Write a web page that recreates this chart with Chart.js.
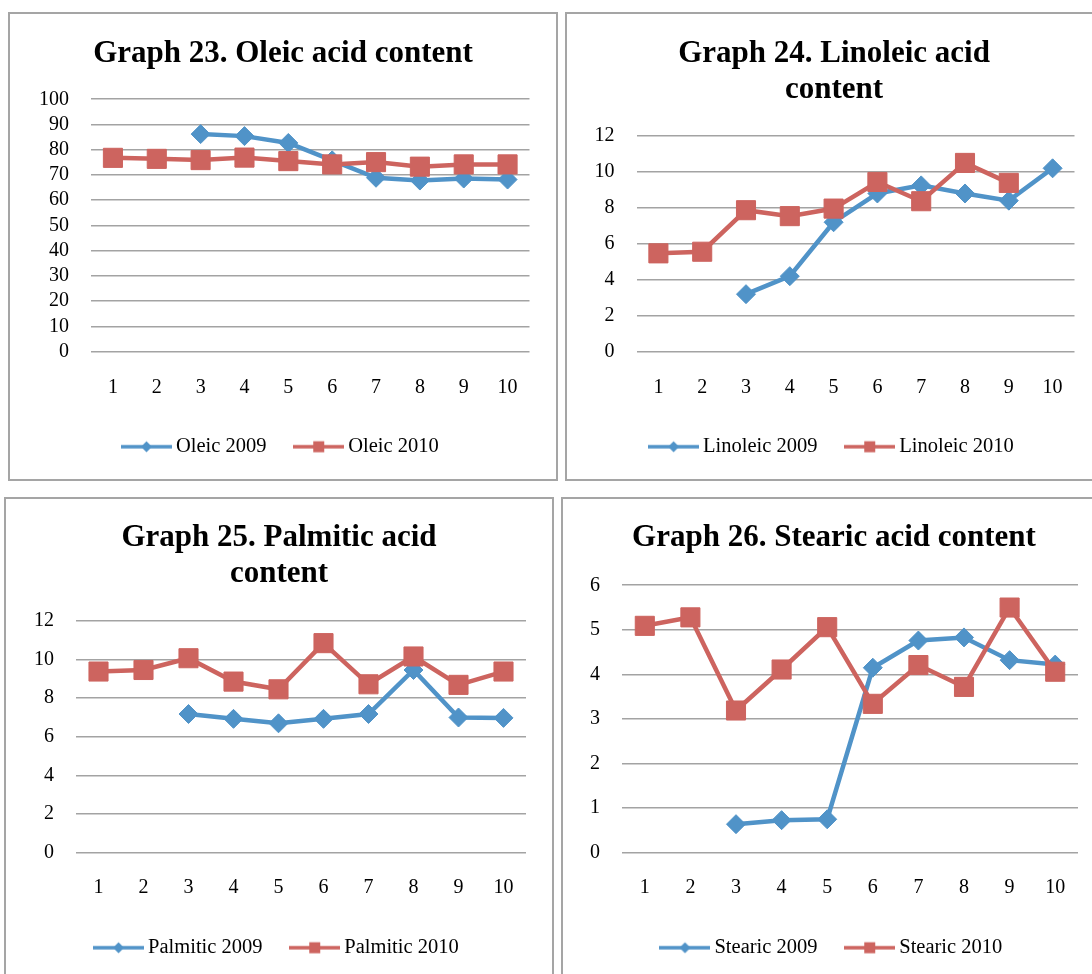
<!DOCTYPE html>
<html>
<head>
<meta charset="utf-8">
<script src="https://cdn.jsdelivr.net/npm/chart.js@4.4.1/dist/chart.umd.min.js"></script>
<style>
  html, body { margin: 0; padding: 0; background: #ffffff; }
  body { width: 1092px; height: 974px; position: relative; overflow: hidden; }
  .panel { position: absolute; box-sizing: border-box; border: 2px solid #a5a5a5; background: #fff; }
  .panel canvas { display: block; }
</style>
</head>
<body>
<div class="panel" id="p1" style="left:8px;top:12px;width:550px;height:469px;"><canvas id="c1"></canvas></div>
<div class="panel" id="p2" style="left:565px;top:12px;width:538px;height:469px;"><canvas id="c2"></canvas></div>
<div class="panel" id="p3" style="left:4px;top:497px;width:550px;height:490px;"><canvas id="c3"></canvas></div>
<div class="panel" id="p4" style="left:561px;top:497px;width:546px;height:490px;"><canvas id="c4"></canvas></div>
<script>
// ---- data ----
const categories = ['1','2','3','4','5','6','7','8','9','10'];

const oleic2009 = [null, null, 86.2, 85.4, 82.7, 75.8, 68.9, 67.8, 68.6, 68.2];
const oleic2010 = [76.8, 76.4, 75.9, 76.9, 75.5, 74.2, 75.1, 73.3, 74.2, 74.2];

const linoleic2009 = [null, null, 3.2, 4.2, 7.2, 8.8, 9.25, 8.8, 8.4, 10.2];
const linoleic2010 = [5.47, 5.56, 7.87, 7.54, 7.96, 9.44, 8.37, 10.5, 9.39, null];

const palmitic2009 = [null, null, 7.18, 6.93, 6.7, 6.93, 7.18, 9.46, 7.0, 6.98];
const palmitic2010 = [9.38, 9.46, 10.07, 8.86, 8.46, 10.85, 8.72, 10.16, 8.69, 9.38];

const stearic2009 = [null, null, 0.64, 0.73, 0.75, 4.15, 4.76, 4.83, 4.32, 4.22];
const stearic2010 = [5.09, 5.28, 3.19, 4.11, 5.06, 3.34, 4.21, 3.72, 5.5, 4.06];

const oleicTicks = [0, 100, 10];
const linoleicTicks = [0, 12, 2];
const palmiticTicks = [0, 12, 2];
const stearicTicks = [0, 6, 1];

const titles = {
  c1: ['Graph 23. Oleic acid content'],
  c2: ['Graph 24. Linoleic acid', 'content'],
  c3: ['Graph 25. Palmitic acid', 'content'],
  c4: ['Graph 26. Stearic acid content']
};
const legendNames = {
  c1: ['Oleic 2009', 'Oleic 2010'],
  c2: ['Linoleic 2009', 'Linoleic 2010'],
  c3: ['Palmitic 2009', 'Palmitic 2010'],
  c4: ['Stearic 2009', 'Stearic 2010']
};

// ---- styles ----
const BLUE = '#5093c8';
const RED = '#cd645f';
const GRID = '#a3a3a3';
const FONT = "'Liberation Serif', 'Times New Roman', serif";

function legendGlyph(color, shape) {
  const c = document.createElement('canvas');
  c.width = 51; c.height = 16;
  const g = c.getContext('2d');
  g.strokeStyle = color; g.lineWidth = 3.5;
  g.beginPath(); g.moveTo(0, 8); g.lineTo(51, 8); g.stroke();
  g.fillStyle = color;
  if (shape === 'diamond') {
    g.beginPath(); g.moveTo(25.5, 2.5); g.lineTo(31, 8); g.lineTo(25.5, 13.5); g.lineTo(20, 8); g.closePath(); g.fill();
  } else {
    g.fillRect(20, 2.5, 11, 11);
  }
  return c;
}
const glyphBlue = legendGlyph(BLUE, 'diamond');
const glyphRed = legendGlyph(RED, 'square');

function makeChart(id, d2009, d2010, ticks, L) {
  const [ymin, ymax, ystep] = ticks;
  const ctx = document.getElementById(id);
  return new Chart(ctx, {
    type: 'line',
    data: {
      labels: categories,
      datasets: [
        {
          label: legendNames[id][0], data: d2009, order: 1,
          borderColor: BLUE, backgroundColor: BLUE, borderWidth: 4.5,
          pointStyle: 'rectRot', pointRadius: 9.5, pointBorderWidth: 1,
          pointBackgroundColor: BLUE, pointBorderColor: BLUE,
          tension: 0, spanGaps: false, fill: false
        },
        {
          label: legendNames[id][1], data: d2010, order: 0,
          borderColor: RED, backgroundColor: RED, borderWidth: 4.5,
          pointStyle: 'rect', pointRadius: 13.5, pointBorderWidth: 1,
          pointBackgroundColor: RED, pointBorderColor: RED,
          tension: 0, spanGaps: false, fill: false
        }
      ]
    },
    options: {
      responsive: true,
      maintainAspectRatio: false,
      animation: false,
      devicePixelRatio: 1,
      layout: { padding: { left: L.padSide, right: L.padSide, top: 0, bottom: L.padBottom } },
      plugins: {
        tooltip: { enabled: false },
        title: {
          display: true,
          text: titles[id],
          color: '#000',
          font: { family: FONT, size: 31, weight: 'bold', lineHeight: 1.17 },
          padding: { top: L.titleTop, bottom: L.titleBottom }
        },
        legend: {
          display: true,
          position: 'bottom',
          labels: {
            color: '#000',
            font: { family: FONT, size: 20.5 },
            usePointStyle: true,
            pointStyleWidth: 38.5,
            padding: 33,
            generateLabels: (chart) => chart.data.datasets.map((ds, i) => ({
              text: ds.label,
              pointStyle: i === 0 ? glyphBlue : glyphRed,
              fillStyle: ds.borderColor,
              strokeStyle: ds.borderColor,
              lineWidth: 0,
              hidden: false,
              datasetIndex: i,
              fontColor: '#000'
            }))
          }
        }
      },
      scales: {
        x: {
          type: 'category',
          offset: true,
          grid: { display: false, drawTicks: false },
          border: { display: false },
          ticks: { color: '#000', font: { family: FONT, size: 20 }, padding: L.xPad, maxRotation: 0, autoSkip: false },
          afterFit: (s) => { s.height = L.xHeight; }
        },
        y: {
          min: ymin, max: ymax,
          grid: { color: GRID, lineWidth: 1.6, drawTicks: false },
          border: { display: false },
          ticks: { stepSize: ystep, autoSkip: false, color: '#000', font: { family: FONT, size: 20 }, padding: 22 },
          afterFit: (s) => { s.width = L.yWidth; }
        }
      }
    }
  });
}

makeChart('c1', oleic2009, oleic2010, oleicTicks,
  { padSide: 26.5, padBottom: 12, titleTop: 21.35, titleBottom: 27.65, xPad: 24, xHeight: 51.8, yWidth: 54.5 });
makeChart('c2', linoleic2009, linoleic2010, linoleicTicks,
  { padSide: 26.5, padBottom: 12, titleTop: 21.35, titleBottom: 28.05, xPad: 24, xHeight: 51.8, yWidth: 43 });
makeChart('c3', palmitic2009, palmitic2010, palmiticTicks,
  { padSide: 26, padBottom: 17, titleTop: 20.35, titleBottom: 29.05, xPad: 23, xHeight: 51.8, yWidth: 44 });
makeChart('c4', stearic2009, stearic2010, stearicTicks,
  { padSide: 27, padBottom: 17, titleTop: 20.35, titleBottom: 29.65, xPad: 23, xHeight: 51.8, yWidth: 32 });
</script>
</body>
</html>
